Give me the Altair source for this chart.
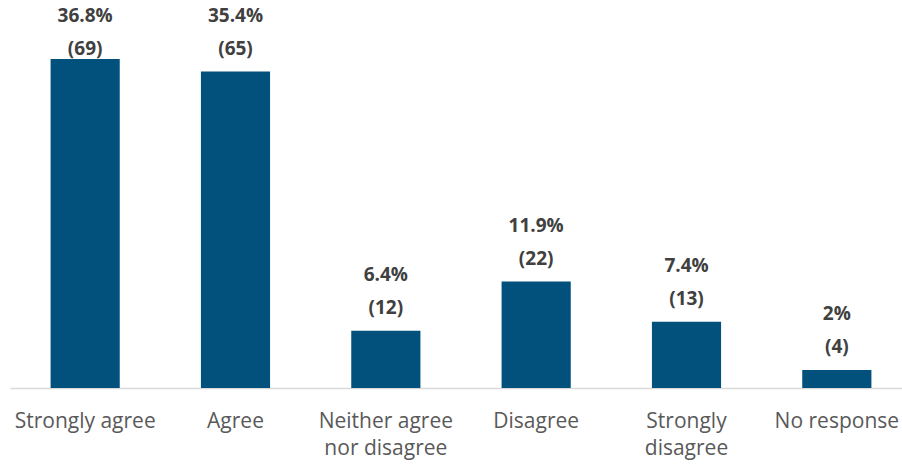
import altair as alt
import pandas as pd

categories = ["Strongly agree", "Agree", "Neither agree\nnor disagree", "Disagree", "Strongly\ndisagree", "No response"]
percents = [36.8, 35.4, 6.4, 11.9, 7.4, 2]
pct_labels = ["36.8%", "35.4%", "6.4%", "11.9%", "7.4%", "2%"]
counts = [69, 65, 12, 22, 13, 4]

df = pd.DataFrame({
    "cat": categories,
    "pct": percents,
    "pct_label": pct_labels,
    "count_label": [f"({c})" for c in counts],
})

FONT = "Open Sans"

x = alt.X("cat:N", sort=categories, title=None,
          scale=alt.Scale(range=[0, 902], paddingInner=0.54, paddingOuter=0.27),
          axis=alt.Axis(labelAngle=0, labelFont=FONT, labelFontSize=21, labelColor="#595959",
                        labelExpr="split(datum.label, '\\n')", labelLineHeight=27,
                        labelPadding=22, labelBaseline="top",
                        domainColor="#d9d9d9", domainWidth=1.5, ticks=False))
yscale = alt.Scale(domain=[0, 43.4], nice=False)

bars = alt.Chart(df).mark_bar(color="#02507c").encode(
    x=x,
    y=alt.Y("pct:Q", scale=yscale, axis=None),
)

base_text = alt.Chart(df).transform_calculate(
    ly="min(datum.pct, 35.4)"
)

pct_text = base_text.mark_text(font=FONT, fontSize=19, fontWeight="bold", color="#404040",
                               baseline="middle", dy=-56).encode(
    x=alt.X("cat:N", sort=categories),
    y=alt.Y("ly:Q", scale=yscale),
    text="pct_label:N",
)
count_text = base_text.mark_text(font=FONT, fontSize=19, fontWeight="bold", color="#404040",
                                 baseline="middle", dy=-23).encode(
    x=alt.X("cat:N", sort=categories),
    y=alt.Y("ly:Q", scale=yscale),
    text="count_label:N",
)

chart = alt.layer(bars, pct_text, count_text).properties(
    width=892, height=388,
    padding={"left": 10, "top": 0, "right": 0, "bottom": 76},
    autosize=alt.AutoSizeParams(type="none"),
    background="white",
).configure_view(stroke=None)

chart.save("out.html", embed_options={"renderer": "svg", "actions": False})
